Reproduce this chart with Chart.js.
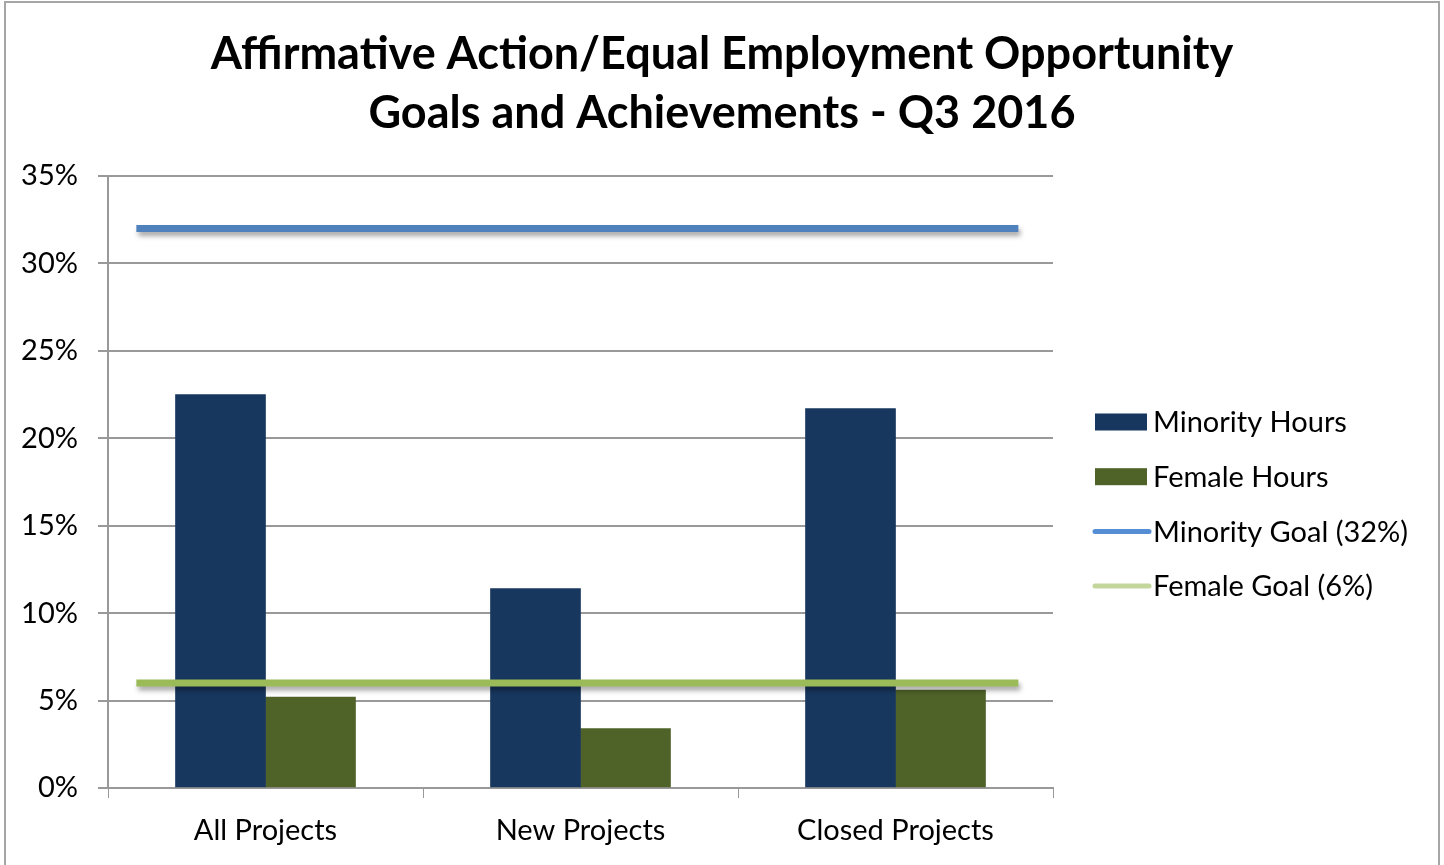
<!DOCTYPE html>
<html>
<head>
<meta charset="utf-8">
<title>AA/EEO Goals and Achievements - Q3 2016</title>
<script src="https://cdn.jsdelivr.net/npm/chart.js@4/dist/chart.umd.min.js"></script>
<style>
  html, body { margin: 0; padding: 0; background: #fff; }
  #wrap { width: 1444px; height: 865px; position: relative; }
</style>
</head>
<body>
<div id="wrap"><canvas id="chart" width="1444" height="865"></canvas></div>
<script>
// categories and values (percent)
const categories = ['All Projects', 'New Projects', 'Closed Projects'];
const minorityHours = [22.5, 11.4, 21.7];
const femaleHours = [5.2, 3.4, 5.6];
const minorityGoal = 32;
const femaleGoal = 6;
// goal lines run a bit past the outer bars (in category units)
const goalFrom = -0.41;
const goalTo = 2.39;

const seriesNames = ['Minority Hours', 'Female Hours', 'Minority Goal (32%)', 'Female Goal (6%)'];
const titleLines = ['Affirmative Action/Equal Employment Opportunity', 'Goals and Achievements - Q3 2016'];

const FONT = 'Lato, "Open Sans", sans-serif';

// white background, frame and the two-line title centred on the frame
const framePlugin = {
  id: 'frame',
  beforeDraw(chart) {
    const c = chart.ctx;
    c.save();
    c.fillStyle = '#fff';
    c.fillRect(0, 0, chart.width, chart.height);
    c.strokeStyle = '#a6a6a6';
    c.lineWidth = 2;
    c.strokeRect(5, 2, 1434, 880);
    c.fillStyle = '#000';
    c.font = 'bold 45px ' + FONT;
    c.textAlign = 'center';
    c.textBaseline = 'middle';
    c.fillText(titleLines[0], 722, 54);
    c.fillText(titleLines[1], 722, 113);
    c.restore();
  }
};

// soft drop shadow under the goal lines
const shadowPlugin = {
  id: 'goalShadow',
  beforeDatasetDraw(chart, args) {
    if (chart.data.datasets[args.index].type !== 'line') return;
    const c = chart.ctx;
    c.save();
    c.shadowColor = 'rgba(0,0,0,0.35)';
    c.shadowBlur = 5;
    c.shadowOffsetX = 2;
    c.shadowOffsetY = 4;
  },
  afterDatasetDraw(chart, args) {
    if (chart.data.datasets[args.index].type !== 'line') return;
    chart.ctx.restore();
  }
};

// legend on the right: boxes for bars, short strokes for goals
const legendPlugin = {
  id: 'sideLegend',
  afterDraw(chart) {
    const c = chart.ctx;
    const x0 = chart.chartArea.right + 42;
    const y0 = 422;
    const step = 54.7;
    const swatch = ['#17375e', '#4f6228', '#558ed5', '#c3d69b'];
    c.save();
    c.font = '29px ' + FONT;
    c.textBaseline = 'middle';
    seriesNames.forEach((name, i) => {
      const y = y0 + i * step;
      if (i < 2) {
        c.fillStyle = swatch[i];
        c.fillRect(x0, y - 8.5, 52, 17);
      } else {
        c.strokeStyle = swatch[i];
        c.lineWidth = 5;
        c.lineCap = 'round';
        c.beginPath();
        c.moveTo(x0, y);
        c.lineTo(x0 + 54, y);
        c.stroke();
      }
      c.fillStyle = '#000';
      c.fillText(name, x0 + 58, y + 1);
    });
    c.restore();
  }
};

const ctx = document.getElementById('chart').getContext('2d');
new Chart(ctx, {
  type: 'bar',
  data: {
    labels: categories,
    datasets: [
      {
        type: 'line',
        label: seriesNames[2],
        data: [{ x: goalFrom, y: minorityGoal }, { x: goalTo, y: minorityGoal }],
        xAxisID: 'xGoal',
        yAxisID: 'y',
        borderColor: '#4f81bd',
        borderWidth: 7,
        borderCapStyle: 'butt',
        pointRadius: 0,
        order: 0
      },
      {
        type: 'line',
        label: seriesNames[3],
        data: [{ x: goalFrom, y: femaleGoal }, { x: goalTo, y: femaleGoal }],
        xAxisID: 'xGoal',
        yAxisID: 'y',
        borderColor: '#9bbb59',
        borderWidth: 7,
        borderCapStyle: 'butt',
        pointRadius: 0,
        order: 0
      },
      {
        type: 'bar',
        label: seriesNames[0],
        data: minorityHours,
        xAxisID: 'x',
        yAxisID: 'y',
        backgroundColor: '#17375e',
        barThickness: 90,
        order: 1
      },
      {
        type: 'bar',
        label: seriesNames[1],
        data: femaleHours,
        xAxisID: 'x',
        yAxisID: 'y',
        backgroundColor: '#4f6228',
        barThickness: 90,
        order: 1
      }
    ]
  },
  options: {
    responsive: false,
    animation: false,
    layout: { padding: { left: 0, right: 391, top: 176, bottom: 0 } },
    plugins: {
      legend: { display: false },
      tooltip: { enabled: false },
      title: { display: false }
    },
    scales: {
      x: {
        type: 'category',
        offset: true,
        grid: {
          offset: true,
          drawOnChartArea: false,
          drawTicks: true,
          tickLength: 10,
          color: '#999'
        },
        border: { color: '#999', width: 2 },
        ticks: { color: '#000', font: { family: FONT, size: 29 }, padding: 15 },
        afterFit(scale) { scale.height = 77; }
      },
      xGoal: {
        type: 'linear',
        display: false,
        offset: false,
        min: -0.5,
        max: 2.5
      },
      y: {
        min: 0,
        max: 35,
        ticks: {
          stepSize: 5,
          color: '#000',
          padding: 20,
          font: { family: FONT, size: 29 },
          callback: v => v + '%'
        },
        grid: { color: '#999', lineWidth: 2, tickLength: 10 },
        border: { color: '#999', width: 2 },
        afterFit(scale) { scale.width = 108; }
      }
    }
  },
  plugins: [framePlugin, shadowPlugin, legendPlugin]
});
</script>
</body>
</html>
